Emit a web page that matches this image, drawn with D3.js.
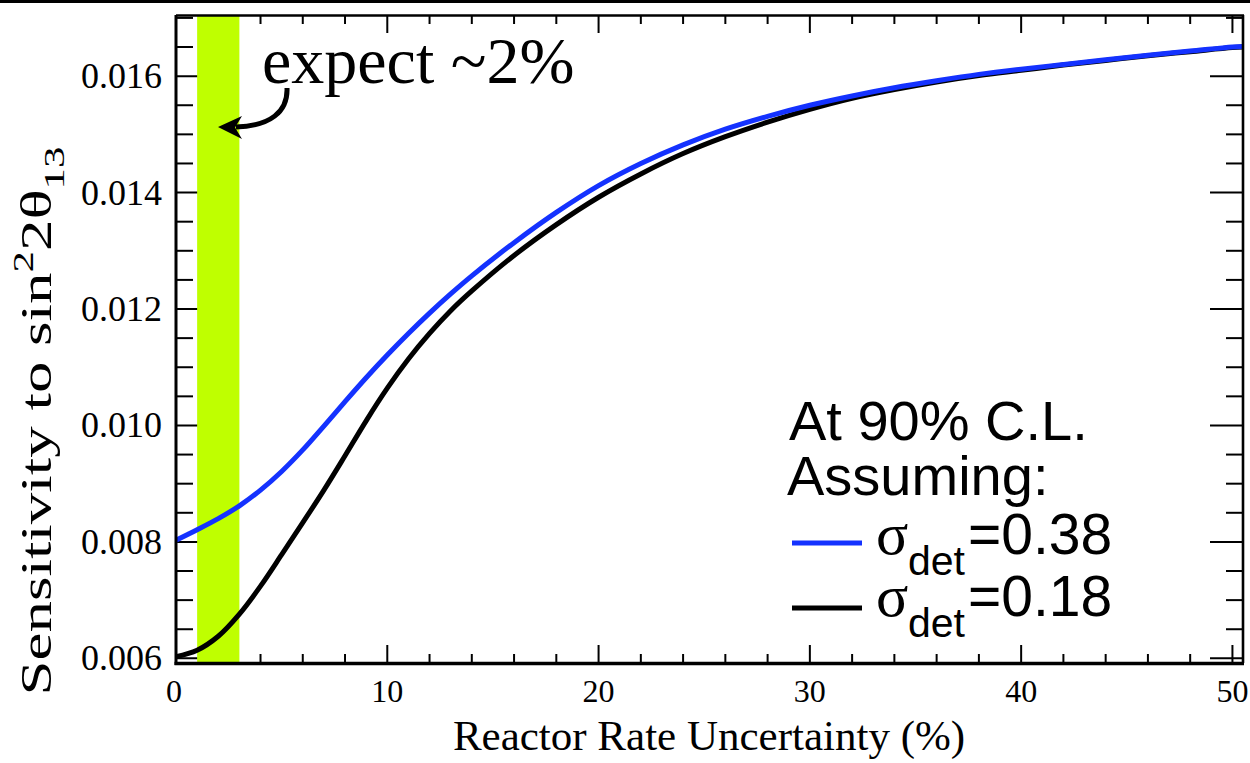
<!DOCTYPE html>
<html>
<head>
<meta charset="utf-8">
<script src="https://cdn.jsdelivr.net/npm/d3@7"></script>
<style>
  html, body { margin: 0; padding: 0; background: #fff; }
  svg { display: block; }
</style>
</head>
<body>
<svg id="chart" width="1250" height="763"></svg>
<script>
// ---------------- data ----------------
const xValues = [0, 1, 2, 3, 4, 5, 6, 7, 8, 9, 10, 11, 12, 13, 14, 16, 18, 20, 22, 24, 26, 28, 30, 32, 34, 36, 38, 40, 42, 44, 46, 48, 50, 50.5];
const sigma038 = [0.00803, 0.00821, 0.00840, 0.00862, 0.00889, 0.00921, 0.00958, 0.00999, 0.01041, 0.01082, 0.01121, 0.01158, 0.01193, 0.01226, 0.01257, 0.01314, 0.01366, 0.01412, 0.01450, 0.01482, 0.01509, 0.01531, 0.01550, 0.01566, 0.01580, 0.01592, 0.01603, 0.01612, 0.01620, 0.01628, 0.01636, 0.01643, 0.01650, 0.01651];
const sigma018 = [0.00603, 0.00614, 0.00638, 0.00676, 0.00724, 0.00778, 0.00833, 0.00889, 0.00948, 0.01008, 0.01064, 0.01114, 0.01158, 0.01197, 0.01231, 0.01292, 0.01345, 0.01392, 0.01432, 0.01467, 0.01496, 0.01521, 0.01543, 0.01562, 0.01577, 0.01590, 0.01601, 0.01610, 0.01619, 0.01627, 0.01635, 0.01642, 0.01649, 0.01650];
const xMajorTicks = [0, 10, 20, 30, 40, 50];
const yMajorTicks = [0.006, 0.008, 0.010, 0.012, 0.014, 0.016];
const yTickLabels = ["0.006", "0.008", "0.010", "0.012", "0.014", "0.016"];
const expectBand = [1, 3];
const seriesNames = ["=0.38", "=0.18"];
const legendTitle = ["At 90% C.L.", "Assuming:"];

// ---------------- layout ----------------
const svg = d3.select("#chart");
const L = 176, R = 1243, T = 15, B = 663;
const x = d3.scaleLinear().domain([0, 50.5]).range([L, R]);
const y = d3.scaleLinear().domain([0.00592, 0.01705]).range([B, T]);
const serif = "'Liberation Serif','Times New Roman',serif";
const sans = "'Liberation Sans',Arial,Helvetica,sans-serif";

// top black bar
svg.append("rect").attr("x", 0).attr("y", 0).attr("width", 1250).attr("height", 3).attr("fill", "#000");

// ticks
const xMinor = d3.range(0, 51, 2).filter(v => v % 10 !== 0);
const yMinor = d3.range(0.006, 0.01701, 0.0005).filter(v => yMajorTicks.every(m => Math.abs(m - v) > 1e-6));
const tg = svg.append("g").attr("stroke", "#000").attr("stroke-width", 2);
function xt(v, len) {
  tg.append("line").attr("x1", x(v)).attr("x2", x(v)).attr("y1", B).attr("y2", B - len);
  tg.append("line").attr("x1", x(v)).attr("x2", x(v)).attr("y1", T).attr("y2", T + len);
}
xMajorTicks.forEach(v => xt(v, 18));
xMinor.forEach(v => xt(v, 9));
function yt(v, len) {
  tg.append("line").attr("x1", L).attr("x2", L + len).attr("y1", y(v)).attr("y2", y(v));
  tg.append("line").attr("x1", R).attr("x2", R - len).attr("y1", y(v)).attr("y2", y(v));
}
yMajorTicks.forEach(v => yt(v, 33));
yMinor.forEach(v => yt(v, 17));

// green band
svg.append("rect")
  .attr("x", x(expectBand[0])).attr("y", T)
  .attr("width", x(expectBand[1]) - x(expectBand[0])).attr("height", B - T)
  .attr("fill", "#bfff00");

// curves
const line = d3.line().x(d => x(d[0])).y(d => y(d[1])).curve(d3.curveCatmullRom.alpha(0.5));
svg.append("path").datum(xValues.map((v, i) => [v, sigma018[i]]))
  .attr("d", line).attr("fill", "none").attr("stroke", "#000").attr("stroke-width", 5);
svg.append("path").datum(xValues.map((v, i) => [v, sigma038[i]]))
  .attr("d", line).attr("fill", "none").attr("stroke", "#1432ff").attr("stroke-width", 5);

// frame
svg.append("line").attr("x1", L).attr("x2", R + 1).attr("y1", T + 0.5).attr("y2", T + 0.5).attr("stroke", "#000").attr("stroke-width", 2.4);
svg.append("line").attr("x1", R).attr("x2", R).attr("y1", T).attr("y2", B).attr("stroke", "#000").attr("stroke-width", 2.6);
svg.append("line").attr("x1", L - 1.5).attr("x2", R + 1).attr("y1", B + 0.5).attr("y2", B + 0.5).attr("stroke", "#000").attr("stroke-width", 3.5);
svg.append("line").attr("x1", L).attr("x2", L).attr("y1", T).attr("y2", B + 2).attr("stroke", "#000").attr("stroke-width", 3);

// tick labels
svg.append("g").selectAll("text").data(xMajorTicks).join("text")
  .attr("x", d => x(d) - (d === 0 ? 2 : 0)).attr("y", 702)
  .attr("text-anchor", "middle").attr("font-family", serif).attr("font-size", 32)
  .text(d => d);
svg.append("g").selectAll("text").data(yMajorTicks).join("text")
  .attr("x", 162).attr("y", d => y(d) + 12)
  .attr("text-anchor", "end").attr("font-family", serif).attr("font-size", 36)
  .text((d, i) => yTickLabels[i]);

// axis titles
svg.append("text").attr("x", 709).attr("y", 750).attr("text-anchor", "middle")
  .attr("font-family", serif).attr("font-size", 43)
  .text("Reactor Rate Uncertainty (%)");

const yt0 = svg.append("text")
  .attr("transform", "translate(51,421) rotate(-90) scale(1.43,1)")
  .attr("text-anchor", "middle").attr("font-family", serif).attr("font-size", 44);
yt0.append("tspan").text("Sensitivity to sin");
yt0.append("tspan").attr("font-size", 30).attr("dy", -18).text("2");
yt0.append("tspan").attr("dy", 18).text("2θ");
yt0.append("tspan").attr("font-size", 30).attr("dy", 13).text("13");

// annotation
svg.append("text").attr("x", 262).attr("y", 83).attr("font-family", serif).attr("font-size", 66)
  .text("expect ~2%");
svg.append("path").attr("d", "M287,88 C288,112 270,126 236,127")
  .attr("fill", "none").attr("stroke", "#000").attr("stroke-width", 5);
svg.append("path").attr("d", "M218,127 L242,116 L235,127.5 L242,139 Z").attr("fill", "#000");

// legend
const lg = svg.append("g");
lg.append("text").attr("x", 789).attr("y", 440).attr("font-family", sans).attr("font-size", 56).text(legendTitle[0]);
lg.append("text").attr("x", 787).attr("y", 495).attr("font-family", sans).attr("font-size", 56).text(legendTitle[1]);
const legendRows = [
  { name: seriesNames[0], color: "#1432ff", ly: 543, base: 554 },
  { name: seriesNames[1], color: "#000", ly: 608, base: 616 }
];
legendRows.forEach(r => {
  lg.append("line").attr("x1", 792).attr("x2", 862).attr("y1", r.ly).attr("y2", r.ly)
    .attr("stroke", r.color).attr("stroke-width", 5);
  lg.append("text").attr("x", 876).attr("y", r.base).attr("font-family", serif).attr("font-size", 60).text("σ");
  lg.append("text").attr("x", 908).attr("y", r.base + 21).attr("font-family", sans).attr("font-size", 41).text("det");
  lg.append("text").attr("x", 968).attr("y", r.base).attr("font-family", sans).attr("font-size", 57).text(r.name);
});
</script>
</body>
</html>
